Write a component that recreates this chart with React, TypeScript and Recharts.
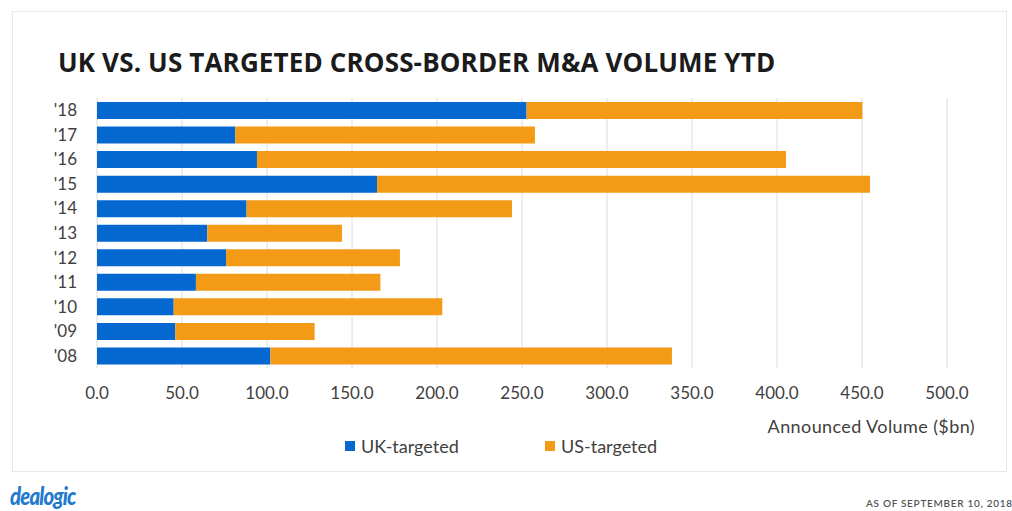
import React from "react"
import { BarChart, Bar, XAxis, YAxis, CartesianGrid } from "recharts"

// values (in $bn), top row first
const years = ["'18", "'17", "'16", "'15", "'14", "'13", "'12", "'11", "'10", "'09", "'08"]
const ukTargeted = [252.7, 81.4, 94.1, 164.7, 88.0, 64.9, 75.9, 58.2, 45.1, 46.1, 102.0]
const usTargeted = [197.5, 176.2, 311.2, 290.0, 156.1, 79.2, 102.3, 108.5, 158.0, 81.9, 236.2]
const xTicks = [0, 50, 100, 150, 200, 250, 300, 350, 400, 450, 500]

const BLUE = "#0568d0"
const ORANGE = "#f39a17"
const AXIS_TEXT = "#404040"
const FONT = "Lato, 'Open Sans', sans-serif"

const data = years.map((year, i) => ({
  year,
  uk: ukTargeted[i],
  us: usTargeted[i],
}))

const legendItems = [
  { label: "UK-targeted", color: BLUE },
  { label: "US-targeted", color: ORANGE },
]

export default function App() {
  return (
    <div
      style={{
        position: "absolute",
        top: 0,
        left: 0,
        width: 1012,
        height: 511,
        overflow: "hidden",
        background: "#fff",
        fontFamily: FONT,
      }}
    >
      {/* card frame */}
      <div
        style={{
          position: "absolute",
          left: 12,
          top: 11,
          width: 995,
          height: 461,
          border: "1px solid #e8e8e8",
          boxSizing: "border-box",
        }}
      />

      <div
        style={{
          position: "absolute",
          left: 58,
          top: 44,
          fontSize: 26,
          fontWeight: 700,
          color: "#1b1b1b",
          fontFamily: "'Open Sans', sans-serif",
          whiteSpace: "nowrap",
          letterSpacing: 0.15,
        }}
      >
        UK VS. US TARGETED CROSS-BORDER M&amp;A VOLUME YTD
      </div>

      <div style={{ position: "absolute", left: 0, top: 0 }}>
        <BarChart
          width={1012}
          height={511}
          data={data}
          layout="vertical"
          margin={{ top: 98, right: 65, bottom: 113, left: 0 }}
          barSize={17}
        >
          <CartesianGrid horizontal={false} stroke="#dcdcdc" />
          <XAxis
            type="number"
            domain={[0, 500]}
            ticks={xTicks}
            tickFormatter={(v) => v.toFixed(1)}
            axisLine={false}
            tickLine={false}
            tickSize={0}
            tickMargin={19}
            height={30}
            tick={{ fontSize: 17, fill: AXIS_TEXT, fontFamily: FONT }}
          />
          <YAxis
            type="category"
            dataKey="year"
            width={97}
            interval={0}
            axisLine={false}
            tickLine={false}
            tickSize={0}
            tickMargin={20}
            tick={{ fontSize: 17, fill: AXIS_TEXT, fontFamily: FONT }}
          />
          <Bar dataKey="uk" stackId="a" fill={BLUE} isAnimationActive={false} />
          <Bar dataKey="us" stackId="a" fill={ORANGE} isAnimationActive={false} />
        </BarChart>
      </div>

      <div
        style={{
          position: "absolute",
          right: 37,
          top: 415,
          fontSize: 18,
          letterSpacing: 0.4,
          color: AXIS_TEXT,
          whiteSpace: "nowrap",
        }}
      >
        Announced Volume ($bn)
      </div>

      {/* legend */}
      <div style={{ position: "absolute", left: 345, top: 435, display: "flex" }}>
        {legendItems.map((item) => (
          <div key={item.label} style={{ display: "flex", alignItems: "center", width: 200 }}>
            <span style={{ width: 10, height: 10, background: item.color, marginRight: 6 }} />
            <span style={{ fontSize: 18, color: AXIS_TEXT }}>{item.label}</span>
          </div>
        ))}
      </div>

      {/* footer */}
      <div
        style={{
          position: "absolute",
          left: 10,
          top: 481,
          fontSize: 24,
          fontWeight: 900,
          fontStyle: "italic",
          color: "#2479cc",
          letterSpacing: -1,
          transform: "scaleX(0.85)",
          transformOrigin: "left center",
        }}
      >
        dealogic
      </div>
      <div
        style={{
          position: "absolute",
          left: 866,
          top: 497,
          fontSize: 10,
          color: "#555",
          letterSpacing: 0.7,
          whiteSpace: "nowrap",
          fontWeight: 600,
        }}
      >
        AS OF SEPTEMBER 10, 2018
      </div>
    </div>
  )
}
